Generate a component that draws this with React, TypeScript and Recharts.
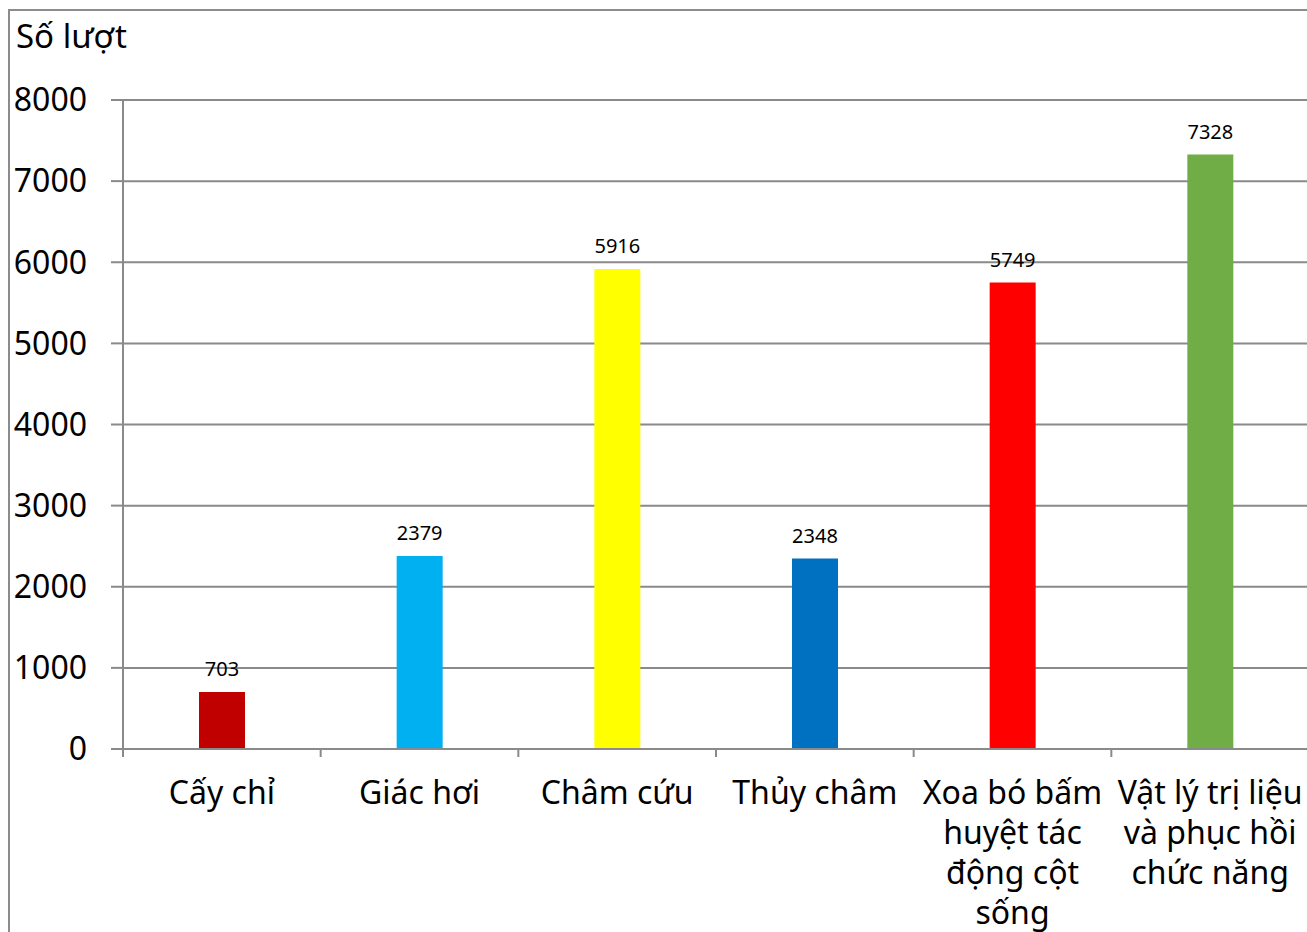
import React from "react";
import { BarChart, Bar, XAxis, YAxis, CartesianGrid, Cell, LabelList } from "recharts";

// Số lượt thực hiện theo từng kỹ thuật
const categories = [
  "Cấy chỉ",
  "Giác hơi",
  "Châm cứu",
  "Thủy châm",
  "Xoa bó bấm huyệt tác động cột sống",
  "Vật lý trị liệu và phục hồi chức năng",
];
const categoryLines = [
  ["Cấy chỉ"],
  ["Giác hơi"],
  ["Châm cứu"],
  ["Thủy châm"],
  ["Xoa bó bấm", "huyệt tác", "động cột", "sống"],
  ["Vật lý trị liệu", "và phục hồi", "chức năng"],
];
const counts = [703, 2379, 5916, 2348, 5749, 7328];
const barColors = ["#C00000", "#00B0F0", "#FFFF00", "#0070C0", "#FF0000", "#70AD47"];
const yTicks = [0, 1000, 2000, 3000, 4000, 5000, 6000, 7000, 8000];

const data = categories.map((name, i) => ({ name, value: counts[i], lines: categoryLines[i] }));

const FONT = "'Noto Sans', sans-serif";
const GRID = "#8a8a8a";
const CHART_W = 1309;
const CHART_H = 932;
const Y_AXIS_W = 123;
const BAND = (CHART_W - Y_AXIS_W) / categories.length;

const CategoryTick = (props: any) => {
  const { x, y, index } = props;
  const lines: string[] = categoryLines[index] || [];
  const left = x - BAND / 2;
  return (
    <g>
      <line x1={left} y1={y} x2={left} y2={y + 8} stroke={GRID} strokeWidth={2} />
      {index === categories.length - 1 && (
        <line x1={left + BAND} y1={y} x2={left + BAND} y2={y + 8} stroke={GRID} strokeWidth={2} />
      )}
      <text x={x} y={y + 55} textAnchor="middle" fontFamily={FONT} fontSize={32} fill="#000">
        {lines.map((ln, i) => (
          <tspan key={i} x={x} dy={i === 0 ? 0 : 40}>
            {ln}
          </tspan>
        ))}
      </text>
    </g>
  );
};

export default function App() {
  return (
    <div
      style={{
        position: "absolute",
        left: 0,
        top: 0,
        width: 1307,
        height: 932,
        overflow: "hidden",
        background: "#fff",
      }}
    >
      <div
        style={{
          position: "absolute",
          left: 8,
          top: 9,
          width: 1400,
          height: 1000,
          border: "2px solid #8c8c8c",
        }}
      />
      <div
        style={{
          position: "absolute",
          left: 16,
          top: 16,
          fontFamily: FONT,
          fontSize: 33,
          lineHeight: "40px",
          color: "#000",
        }}
      >
        Số lượt
      </div>
      <div style={{ position: "absolute", left: 0, top: 0 }}>
        <BarChart
          width={CHART_W}
          height={CHART_H}
          data={data}
          margin={{ top: 100, right: 0, bottom: 0, left: 0 }}
          barCategoryGap={0}
        >
          <CartesianGrid vertical={false} stroke={GRID} strokeWidth={2} />
          <XAxis
            dataKey="name"
            height={183}
            tickLine={false}
            tickSize={0}
            tickMargin={0}
            axisLine={{ stroke: GRID, strokeWidth: 2 }}
            interval={0}
            tick={<CategoryTick />}
          />
          <YAxis
            width={Y_AXIS_W}
            domain={[0, 8000]}
            ticks={yTicks}
            interval={0}
            tickSize={12}
            tickMargin={24}
            axisLine={{ stroke: GRID, strokeWidth: 2 }}
            tickLine={{ stroke: GRID, strokeWidth: 2 }}
            tick={{ fontFamily: FONT, fontSize: 32, fill: "#000" }}
          />
          <Bar dataKey="value" barSize={46} isAnimationActive={false}>
            {data.map((d, i) => (
              <Cell key={d.name} fill={barColors[i]} />
            ))}
            <LabelList
              dataKey="value"
              position="top"
              offset={16}
              style={{ fontFamily: FONT, fontSize: 20, fill: "#000" }}
            />
          </Bar>
        </BarChart>
      </div>
    </div>
  );
}
